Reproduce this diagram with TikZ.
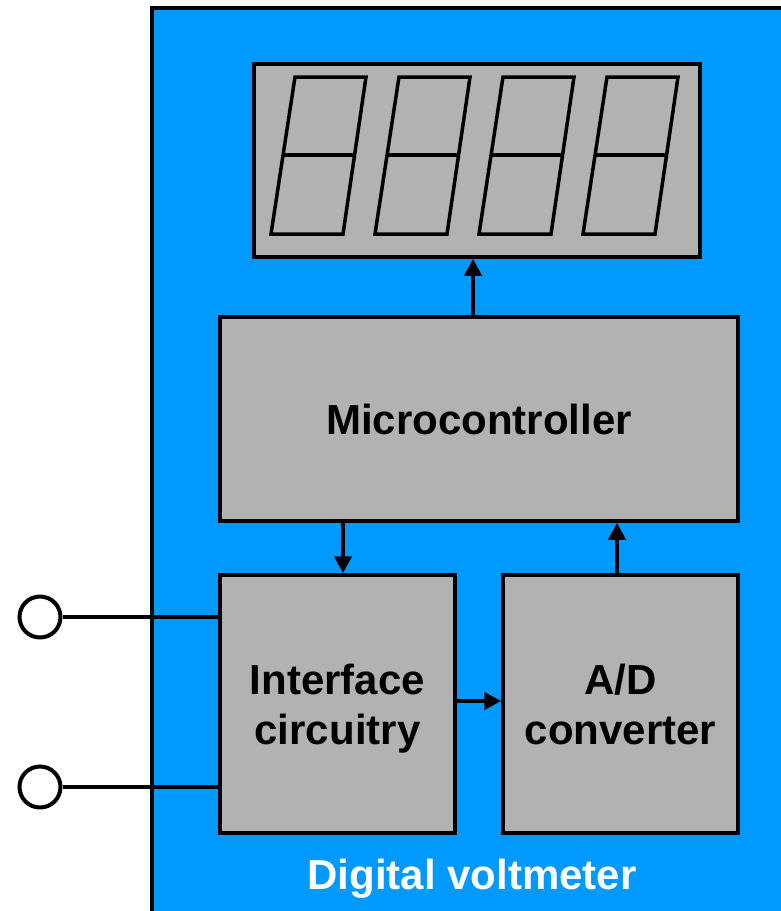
\documentclass[tikz,border=0pt]{standalone}
\usepackage{fontspec}
\setmainfont{Liberation Sans}
\usepackage{tikz}
\usetikzlibrary{positioning}
\usetikzlibrary{arrows.meta}
\definecolor{meterblue}{RGB}{0,153,255}
\definecolor{blockgray}{RGB}{178,178,178}
\tikzset{block/.style={rectangle,fill=blockgray,draw,line width=3.5pt,inner sep=0pt,align=center,
    text depth=0pt,font=\bfseries\fontsize{42}{50}\selectfont},
  terminal/.style={circle,fill=white,draw,line width=4pt,minimum size=41pt,inner sep=0pt},}

\begin{document}
\begin{tikzpicture}[x=1pt, y=-1pt, >={Triangle[length=17pt,width=17pt]}, line width=4pt]
	\useasboundingbox (0,0) rectangle (781,911);
	\fill[meterblue, draw=black, line width=3.5pt] (152,8) rectangle (820,940);

	\node[block, minimum width=446pt, minimum height=193pt] (disp) at (477,160.5) {};
	\node[block, minimum width=518pt, minimum height=204pt] (micro) at (479,419) {Microcontroller};
	\node[block, minimum width=235pt, minimum height=258pt] (iface) at (337.5,704) {Interface\\circuitry};
	\node[block, minimum width=235pt, minimum height=258pt] (adc) [right = 44.5pt of iface] {A/D\\converter};
	\node[font=\bfseries\fontsize{42}{50}\selectfont, text=white] (name) at (472,879) {Digital voltmeter};

	% seven segment digits
	\foreach \i in {0,...,3} {
	    \draw[line width=3.5pt] ([xshift=104*\i pt]295,77) -- ([xshift=104*\i pt]366,77) -- ([xshift=104*\i pt]343,234)
	        -- ([xshift=104*\i pt]271,234) -- cycle;
	    \draw[line width=3.5pt] ([xshift=104*\i pt]282,155) -- ([xshift=104*\i pt]355,155);
	}

	\node[terminal] (t1) at (40,617) {};
	\node[terminal] (t2) at (40,787) {};

	\draw (t1) -- (t1 -| iface.west);
	\draw (t2) -- (t2 -| iface.west);
	\draw[->] ([xshift=-6pt]micro.north) -- ([xshift=-6pt]micro.north |- disp.south);
	\draw[->] ([xshift=5.5pt]micro.south -| iface.north) -- ([xshift=5.5pt]iface.north);
	\draw[->] ([xshift=-3.5pt]adc.north) -- ([xshift=-3.5pt]adc.north |- micro.south);
	\draw[->] ([yshift=3pt]iface.east) -- ([yshift=3pt]iface.east -| adc.west);
\end{tikzpicture}
\end{document}
